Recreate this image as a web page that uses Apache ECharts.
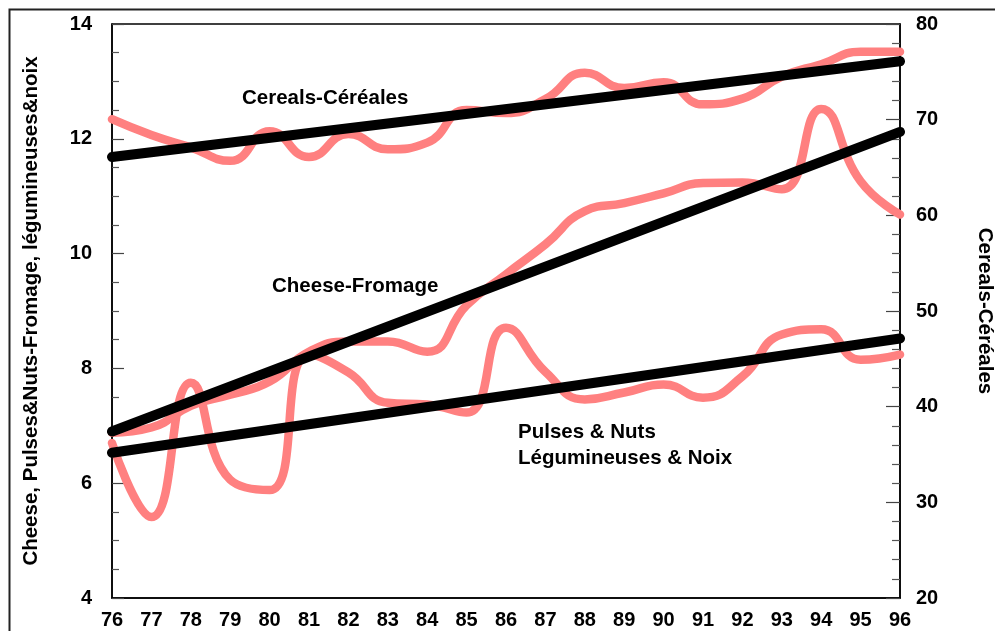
<!DOCTYPE html>
<html>
<head>
<meta charset="utf-8">
<script src="https://cdn.jsdelivr.net/npm/echarts@6/dist/echarts.min.js"></script>
<style>
html,body{margin:0;padding:0;background:#fff;overflow:hidden;}
#c{width:995px;height:631px;}
</style>
</head>
<body>
<div id="c"></div>
<script>
var years = [76,77,78,79,80,81,82,83,84,85,86,87,88,89,90,91,92,93,94,95,96];
var cereals = [70.05,68.4,67.1,65.7,68.8,66.1,68.5,66.9,67.6,71.0,70.7,72.15,74.9,73.3,73.9,71.6,72.2,74.5,75.8,77.1,77.1];
var cheese = [6.88,6.97,7.35,7.54,7.77,8.29,8.47,8.47,8.29,9.1,9.64,10.16,10.74,10.88,11.05,11.23,11.24,11.12,12.52,11.26,10.68];
var pulses = [6.7,5.41,7.75,6.06,5.88,8.24,7.93,7.40,7.37,7.23,8.71,7.94,7.46,7.58,7.72,7.49,7.86,8.59,8.68,8.15,8.24];
var trendYears = [76,96];
var cerealsTrend = [66.1,76.1];
var cheeseTrend = [6.9,12.12];
var pulsesTrend = [6.53,8.52];
var leftTicks = [4,6,8,10,12,14];
var rightTicks = [20,30,40,50,60,70,80];

function pairs(xs, ys){ return xs.map(function(x,i){return [x, ys[i]];}); }

var FONT = 'Liberation Sans, Arial, sans-serif';
var PINK = '#FF8080';
var lab = {color:'#000', fontFamily:FONT, fontWeight:'bold', fontSize:20};

var chart = echarts.init(document.getElementById('c'), null, {renderer:'canvas'});
chart.setOption({
  animation:false,
  backgroundColor:'#fff',
  grid:{left:112, right:95, top:24, bottom:33, containLabel:false, outerBoundsMode:'none', show:true, borderColor:'#000', borderWidth:1.5, backgroundColor:'transparent'},
  xAxis:{
    type:'value', min:76, max:96, interval:1,
    axisLine:{show:true, lineStyle:{color:'#000', width:1.5}},
    axisTick:{show:false},
    splitLine:{show:false},
    axisLabel:Object.assign({margin:12}, lab)
  },
  yAxis:[{
    type:'value', min:leftTicks[0], max:leftTicks[leftTicks.length-1], interval:2,
    name:'Cheese, Pulses&Nuts-Fromage, légumineuses&noix',
    nameLocation:'middle', nameGap:70, nameRotate:90,
    nameTextStyle:{color:'#000', fontFamily:FONT, fontWeight:'bold', fontSize:20.5},
    axisLine:{show:true, lineStyle:{color:'#000', width:1.5}},
    axisTick:{show:true, inside:true, length:12, lineStyle:{color:'#444', width:1.2}},
    minorTick:{show:true, splitNumber:4, length:7, lineStyle:{color:'#555', width:1.2}},
    splitLine:{show:false},
    axisLabel:Object.assign({margin:20}, lab)
  },{
    type:'value', min:rightTicks[0], max:rightTicks[rightTicks.length-1], interval:10,
    position:'right',
    name:'Cereals-Céréales',
    nameLocation:'middle', nameGap:74, nameRotate:-90,
    nameTextStyle:{color:'#000', fontFamily:FONT, fontWeight:'bold', fontSize:20.5},
    axisLine:{show:true, lineStyle:{color:'#000', width:1.5}},
    axisTick:{show:true, inside:true, length:14, lineStyle:{color:'#444', width:1.2}},
    minorTick:{show:true, splitNumber:5, length:8, lineStyle:{color:'#555', width:1.2}},
    splitLine:{show:false},
    axisLabel:Object.assign({margin:16}, lab)
  }],
  series:[
    {type:'line', name:'Cereals', yAxisIndex:1, data:pairs(years,cereals), smooth:0.5, showSymbol:false, lineStyle:{color:PINK, width:8.5, cap:'round'}},
    {type:'line', name:'Cheese', yAxisIndex:0, data:pairs(years,cheese), smooth:0.5, showSymbol:false, lineStyle:{color:PINK, width:8.5, cap:'round'}},
    {type:'line', name:'Pulses', yAxisIndex:0, data:pairs(years,pulses), smooth:0.5, showSymbol:false, lineStyle:{color:PINK, width:8.5, cap:'round'}},
    {type:'line', name:'CerealsTrend', yAxisIndex:1, data:pairs(trendYears,cerealsTrend), showSymbol:false, lineStyle:{color:'#000', width:10, cap:'round'}},
    {type:'line', name:'CheeseTrend', yAxisIndex:0, data:pairs(trendYears,cheeseTrend), showSymbol:false, lineStyle:{color:'#000', width:10, cap:'round'}},
    {type:'line', name:'PulsesTrend', yAxisIndex:0, data:pairs(trendYears,pulsesTrend), showSymbol:false, lineStyle:{color:'#000', width:10, cap:'round'}}
  ],
  graphic:[
    {type:'rect', left:7, top:7, shape:{width:1200, height:1000}, style:{fill:'none', stroke:'#222', lineWidth:2}, silent:true, z:-1},
    {type:'text', left:242, top:88, style:{text:'Cereals-Céréales', font:'bold 20.5px Liberation Sans, Arial, sans-serif', fill:'#000'}},
    {type:'text', left:272, top:276, style:{text:'Cheese-Fromage', font:'bold 20.5px Liberation Sans, Arial, sans-serif', fill:'#000'}},
    {type:'text', left:518, top:422, style:{text:'Pulses & Nuts', font:'bold 20.5px Liberation Sans, Arial, sans-serif', fill:'#000'}},
    {type:'text', left:518, top:448, style:{text:'Légumineuses & Noix', font:'bold 20.5px Liberation Sans, Arial, sans-serif', fill:'#000'}}
  ]
});
</script>
</body>
</html>
